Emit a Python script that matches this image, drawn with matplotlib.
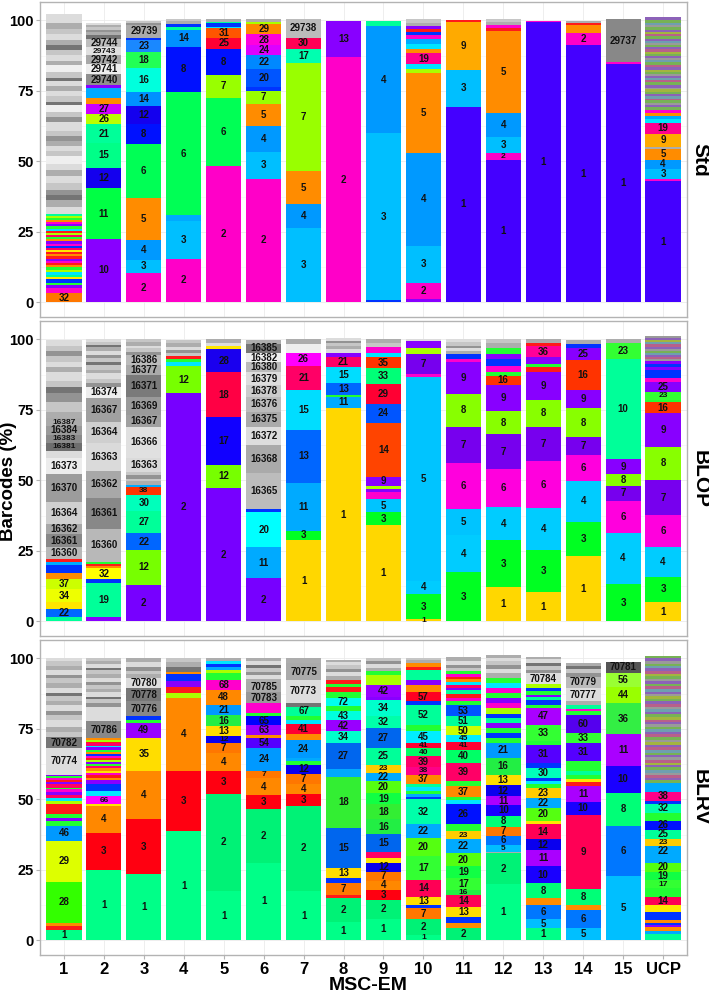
import matplotlib
matplotlib.use("Agg")
import matplotlib.pyplot as plt
from matplotlib.ticker import MultipleLocator

BARS = ["1", "2", "3", "4", "5", "6", "7", "8", "9", "10", "11", "12", "13", "14", "15", "UCP"]
PANELS = ["Std", "BLOP", "BLRV"]

# ---- segments of every bar, bottom -> top : (barcode id, % of barcodes) ----
# numeric ids are labelled barcodes; letter ids are minor unlabelled barcodes
STD_SEGMENTS = [
    [("32", 3.3), ("M", 1.8), ("V", 1.0), ("G", 0.8), ("B", 1.4), ("Y", 0.6), ("T", 0.8), ("C", 1.2), ("L", 0.6),
     ("G", 0.9), ("O", 0.7), ("R", 0.8), ("M", 0.6), ("V", 0.7), ("R", 1.2), ("O", 0.6), ("R", 0.9), ("Y", 0.5),
     ("P", 1.0), ("B", 0.6), ("M", 0.8), ("V", 1.0), ("O", 0.7), ("G", 0.8), ("P", 0.6), ("L", 0.8), ("R", 0.7),
     ("C", 0.7), ("G", 1.0), ("V", 0.6), ("M", 0.8), ("O", 0.6), ("G", 0.8), ("L", 0.7), ("T", 0.9),
     ("g2", 2.4), ("g4", 2.4), ("g6", 1.8), ("g5", 1.8), ("g3", 2.4), ("g2", 2.4), ("g4", 2.4), ("g2", 1.8),
     ("g1", 3.0), ("g3", 1.8), ("g2", 1.8), ("g4", 1.8), ("g5", 1.8), ("g3", 1.8), ("g2", 3.0), ("g5", 1.8),
     ("g3", 1.8), ("g1", 2.4), ("g6", 1.2), ("g3", 2.0), ("g2", 2.0), ("g4", 1.5), ("g2", 2.0), ("g6", 1.0),
     ("g3", 2.0), ("g1", 2.5), ("g4", 1.5), ("g2", 2.0), ("g3", 2.0), ("g6", 1.5), ("g4", 2.0), ("g2", 2.0),
     ("g3", 2.0), ("g4", 2.0), ("g2", 3.0)],
    [("10", 22.6), ("11", 17.8), ("12", 7.4), ("15", 8.8), ("21", 6.5), ("26", 3.6), ("27", 3.7), ("O", 2.2),
     ("S", 3.5), ("V", 0.9), ("29740", 3.9), ("29741", 3.5), ("29742", 3.2), ("29743", 2.9), ("29744", 3.0),
     ("g6", 1.2), ("g4", 1.0), ("g5", 1.0), ("g3", 0.8), ("g4", 0.9), ("g2", 0.8)],
    [("2", 10.5), ("3", 4.5), ("4", 7.1), ("5", 14.8), ("6", 19.1), ("8", 7.1), ("12", 6.5), ("14", 5.0),
     ("16", 8.6), ("18", 5.7), ("23", 4.1), ("B", 0.8), ("29739", 4.5), ("g5", 0.8), ("g3", 0.7)],
    [("2", 15.5), ("3", 13.3), ("S", 2.1), ("6", 43.7), ("8", 16.1), ("14", 5.9), ("T", 1.2), ("B", 0.8),
     ("g4", 1.0), ("g3", 1.0)],
    [("2", 48.3), ("6", 24.3), ("7", 7.9), ("8", 9.5), ("25", 3.9), ("31", 3.3), ("C", 0.6), ("B", 1.1),
     ("T", 0.6), ("g4", 0.9)],
    [("2", 43.9), ("3", 9.4), ("4", 9.2), ("5", 7.9), ("7", 4.5), ("B", 1.5), ("20", 6.5), ("22", 4.7),
     ("24", 3.5), ("28", 3.9), ("29", 3.6), ("L", 0.9), ("g4", 0.9)],
    [("3", 26.5), ("4", 8.3), ("5", 11.8), ("7", 38.4), ("17", 5.0), ("30", 3.9), ("29738", 6.5)],
    [("2", 87.0), ("13", 12.8)],
    [("B", 0.7), ("3", 59.2), ("4", 38.1), ("T", 1.8)],
    [("V", 1.1), ("2", 5.9), ("3", 13.0), ("4", 33.1), ("5", 28.1), ("L", 1.7), ("C", 1.5), ("19", 4.1),
     ("O", 1.5), ("C", 1.5), ("S", 1.8), ("M", 1.4), ("B", 1.2), ("R", 0.9), ("V", 1.2), ("g4", 1.2), ("g3", 1.2)],
    [("1", 69.4), ("3", 12.9), ("9", 17.1), ("R", 0.7)],
    [("1", 50.5), ("2", 2.6), ("3", 5.5), ("4", 8.4), ("5", 29.2), ("R", 1.2), ("M", 0.9), ("g4", 1.0), ("g3", 1.2)],
    [("1", 99.5), ("M", 0.3)],
    [("1", 91.1), ("2", 4.5), ("O", 2.6), ("R", 1.0), ("g4", 0.6)],
    [("1", 84.6), ("M", 0.6), ("29737", 15.2)],
    [("1", 43.0), ("M", 0.9), ("3", 3.5), ("4", 3.1), ("5", 4.0), ("g4", 0.7), ("9", 4.4), ("19", 4.1),
     ("C", 1.2), ("S", 1.1), ("O", 1.0), ("M", 1.2),
     ("k1", 1.0), ("k2", 0.8), ("k3", 0.7), ("k1", 0.9), ("k4", 0.6), ("k5", 0.8), ("k2", 1.0), ("k1", 0.7),
     ("k6", 0.8), ("k3", 0.6), ("k2", 0.9), ("k1", 1.1), ("k4", 0.7), ("k5", 0.6), ("k2", 0.8), ("k3", 0.9),
     ("k1", 0.7), ("k6", 0.6), ("k2", 1.0), ("k4", 0.8), ("k1", 0.9), ("k5", 0.7), ("k3", 0.8), ("k2", 0.6),
     ("k1", 1.0), ("k6", 0.7), ("k4", 0.9), ("k2", 0.8), ("k1", 0.7), ("k3", 0.6), ("k5", 0.9), ("k2", 0.7),
     ("k1", 1.0), ("k4", 0.6), ("k6", 0.8), ("k2", 0.7), ("k1", 0.9), ("k3", 0.8), ("k5", 0.6), ("k1", 1.2),
     ("k2", 1.2)],
]

BLOP_SEGMENTS = [
    [("T", 1.5), ("22", 3.0), ("Y", 2.3), ("34", 4.7), ("37", 3.5), ("O", 2.1), ("B", 3.0), ("S", 0.8), ("R", 1.2),
     ("16360", 4.1), ("16361", 4.6), ("16362", 3.8), ("16364", 7.7), ("16370", 9.9), ("16373", 5.8), ("g2", 2.4),
     ("16381", 2.9), ("16383", 2.9), ("16384", 3.0), ("16387", 2.9),
     ("g4", 2.3), ("g3", 3.5), ("g5", 2.9), ("g6", 2.3), ("g3", 2.3), ("g2", 2.9), ("g4", 1.8), ("g2", 1.8),
     ("g3", 2.3), ("g5", 1.8), ("g3", 1.8), ("g2", 2.0)],
    [("V", 1.5), ("19", 12.0), ("B", 1.5), ("32", 3.9), ("O", 0.8), ("R", 0.6), ("G", 0.8),
     ("16360", 11.7), ("16361", 11.1), ("16362", 9.4), ("16363", 9.9), ("16364", 7.6), ("16367", 8.4),
     ("16374", 3.9), ("g5", 1.5), ("g3", 1.5), ("g2", 2.0), ("g4", 1.2), ("g3", 1.5), ("g6", 1.0), ("g3", 1.5),
     ("g5", 1.2), ("g2", 1.5), ("g4", 1.2), ("g6", 0.8), ("g3", 1.0), ("g2", 1.2)],
    [("2", 13.0), ("12", 12.2), ("22", 6.1), ("27", 8.0), ("30", 5.6), ("38", 2.8), ("S", 0.7),
     ("g4", 1.2), ("g3", 1.0), ("g5", 1.2), ("g3", 1.2), ("16363", 5.0), ("16366", 11.0), ("16367", 4.1),
     ("16369", 6.5), ("16371", 7.8), ("16377", 3.5), ("16386", 3.5),
     ("g5", 1.2), ("g3", 1.2), ("g2", 1.0), ("g4", 1.2), ("g3", 1.0)],
    [("2", 81.1), ("12", 9.3), ("C", 1.7), ("G", 0.9), ("R", 1.2),
     ("g3", 1.0), ("g5", 1.0), ("g2", 1.2), ("g4", 1.2), ("g3", 1.2)],
    [("2", 47.4), ("12", 8.0), ("17", 17.1), ("18", 15.8), ("28", 8.2), ("Y", 1.2), ("g2", 1.0), ("g4", 1.3)],
    [("2", 15.3), ("11", 11.1), ("20", 12.3), ("B", 1.1), ("16365", 12.9), ("16368", 9.9), ("16372", 6.4),
     ("16375", 5.3), ("16376", 5.3), ("16378", 4.3), ("16379", 4.4), ("16380", 3.5), ("16382", 3.5),
     ("16385", 3.2), ("g4", 1.3)],
    [("1", 28.7), ("3", 3.5), ("11", 17.0), ("13", 18.7), ("15", 14.0), ("21", 8.8), ("26", 4.6),
     ("g1", 2.9), ("g4", 2.0)],
    [("1", 75.7), ("11", 3.9), ("G", 0.8), ("13", 4.1), ("15", 5.6), ("21", 3.5), ("V", 1.7),
     ("g2", 1.2), ("g4", 1.0), ("g3", 1.1), ("g5", 0.8), ("g2", 1.2)],
    [("1", 34.0), ("3", 4.7), ("5", 4.6), ("M", 2.4), ("V", 1.1), ("L", 1.2), ("9", 3.3), ("14", 19.1),
     ("24", 6.8), ("29", 7.0), ("33", 5.5), ("35", 4.1), ("C", 1.5), ("M", 2.1), ("g3", 1.3), ("g4", 1.3)],
    [("1", 0.7), ("3", 9.0), ("4", 4.6), ("5", 72.3), ("M", 1.1), ("7", 7.0), ("L", 2.4), ("V", 2.3), ("g2", 0.6)],
    [("3", 17.6), ("4", 12.9), ("5", 9.3), ("6", 16.4), ("7", 12.8), ("8", 11.7), ("9", 11.4), ("M", 0.9),
     ("B", 1.8), ("g4", 1.0), ("g2", 1.2), ("g5", 0.8), ("g3", 1.2), ("g2", 1.0)],
    [("1", 12.1), ("3", 16.6), ("4", 11.7), ("6", 13.5), ("7", 12.5), ("8", 8.1), ("9", 9.4), ("16", 3.2),
     ("G", 1.2), ("M", 2.4), ("B", 2.3), ("V", 1.8), ("G", 2.3), ("g4", 1.5), ("g3", 1.4)],
    [("1", 10.3), ("3", 14.9), ("4", 15.0), ("6", 16.6), ("7", 12.2), ("8", 9.4), ("9", 9.9), ("R", 1.8),
     ("G", 1.2), ("V", 2.3), ("36", 4.1), ("R", 0.9), ("g4", 1.4)],
    [("1", 23.2), ("3", 12.0), ("4", 14.6), ("6", 9.3), ("7", 6.1), ("8", 10.3), ("9", 6.4), ("16", 10.9),
     ("25", 4.3), ("B", 1.1), ("g4", 1.6)],
    [("3", 13.3), ("4", 18.0), ("6", 11.5), ("7", 5.2), ("8", 4.3), ("9", 5.1), ("10", 35.8), ("23", 5.6),
     ("g4", 1.2)],
    [("1", 6.9), ("3", 8.9), ("4", 10.6), ("6", 11.2), ("7", 12.6), ("8", 11.7), ("9", 11.8), ("16", 3.9),
     ("G", 1.0), ("23", 2.9), ("25", 3.5), ("M", 1.4), ("B", 2.6), ("V", 1.2), ("B", 1.0), ("V", 1.1),
     ("k3", 0.8), ("k4", 0.7), ("k2", 0.8), ("k5", 0.7), ("k1", 0.6), ("k3", 0.8), ("k2", 0.7), ("k4", 0.8),
     ("k5", 0.7), ("k6", 0.8), ("k2", 0.7), ("k3", 0.9)],
]

BLRV_SEGMENTS = [
    [("1", 3.8), ("R", 1.2), ("O", 1.2), ("28", 14.6), ("29", 14.5), ("46", 5.2), ("G", 1.8), ("V", 1.2),
     ("G", 1.2), ("R", 3.5), ("L", 1.2), ("C", 1.1),
     ("P", 1.2), ("V", 0.8), ("M", 1.0), ("G", 0.6), ("P", 1.2), ("V", 0.8), ("R", 0.7), ("M", 0.8), ("G", 0.6),
     ("V", 0.6), ("70774", 9.4), ("70782", 3.8),
     ("g3", 2.0), ("g4", 1.8), ("g2", 2.2), ("g3", 1.8), ("g5", 1.5), ("g2", 2.0), ("g4", 1.5), ("g3", 1.8),
     ("g6", 1.0), ("g2", 2.0), ("g4", 1.5), ("g3", 1.8), ("g5", 1.2), ("g2", 1.8), ("g4", 1.5), ("g3", 1.6),
     ("g2", 1.0)],
    [("1", 25.0), ("3", 13.2), ("4", 9.4), ("Y", 0.8), ("66", 2.7), ("C", 2.0), ("B", 2.2), ("V", 1.4),
     ("O", 1.0), ("R", 0.8), ("M", 0.9), ("Y", 0.6), ("O", 1.0), ("P", 0.8), ("G", 0.7), ("V", 0.9), ("L", 0.6),
     ("R", 0.8), ("M", 0.7), ("B", 0.6), ("O", 0.8), ("G", 0.7), ("V", 0.8), ("C", 0.6), ("P", 0.8), ("R", 0.7),
     ("L", 0.5), ("O", 0.8), ("70786", 5.9), ("g2", 5.2),
     ("g5", 1.2), ("g3", 1.5), ("g6", 0.8), ("g2", 1.5), ("g4", 1.2), ("g3", 1.5), ("g5", 1.0), ("g2", 1.5),
     ("g4", 1.2), ("g3", 1.5), ("g6", 0.8), ("g2", 1.4), ("g4", 1.2), ("g3", 0.8)],
    [("1", 23.5), ("3", 19.4), ("4", 17.1), ("35", 11.8), ("49", 5.3), ("G", 1.2), ("B", 1.1), ("70776", 5.3),
     ("70778", 4.7), ("70780", 3.5), ("g4", 1.5), ("g3", 1.2), ("g5", 1.5), ("g2", 1.5), ("g4", 1.4)],
    [("1", 38.8), ("3", 21.4), ("4", 25.7), ("L", 1.8), ("R", 2.0), ("V", 2.1), ("B", 2.6), ("O", 0.9),
     ("g6", 1.8), ("g4", 1.5), ("g3", 1.6)],
    [("1", 17.6), ("2", 34.4), ("3", 8.0), ("4", 6.5), ("7", 3.5), ("12", 2.3), ("13", 3.6), ("16", 4.1),
     ("21", 3.5), ("48", 5.3), ("68", 3.5), ("G", 2.4), ("L", 1.0), ("S", 1.2), ("B", 1.0), ("C", 1.3), ("g4", 1.0)],
    [("1", 27.6), ("2", 18.9), ("3", 5.0), ("4", 6.1), ("7", 2.6), ("24", 8.0), ("54", 3.6), ("O", 0.9),
     ("63", 3.5), ("65", 3.2), ("G", 1.2), ("M", 3.5), ("70783", 3.9), ("70785", 3.5),
     ("g4", 1.2), ("g2", 1.5), ("g5", 1.0), ("g3", 1.5), ("g6", 1.0), ("g2", 1.2), ("g4", 1.1)],
    [("1", 17.6), ("2", 30.0), ("3", 4.4), ("4", 3.5), ("7", 3.5), ("12", 3.3), ("G", 1.2), ("S", 1.2),
     ("24", 6.5), ("O", 2.0), ("41", 3.5), ("C", 1.3), ("G", 1.4), ("67", 3.5), ("g6", 1.2), ("70773", 8.3),
     ("70775", 5.8), ("g4", 2.0)],
    [("1", 6.5), ("2", 8.4), ("R", 1.2), ("7", 4.1), ("B", 1.8), ("13", 3.6), ("15", 14.4), ("18", 17.9),
     ("S", 3.0), ("27", 9.1), ("34", 4.1), ("42", 4.1), ("43", 3.0), ("G", 1.8), ("72", 3.1), ("G", 1.9),
     ("R", 2.0), ("G", 0.8), ("R", 1.6),
     ("g4", 1.2), ("g2", 1.5), ("g5", 1.0), ("g3", 1.5), ("g2", 1.0), ("g4", 0.8)],
    [("1", 7.7), ("2", 6.6), ("3", 3.6), ("4", 3.3), ("7", 3.2), ("12", 3.2), ("Y", 1.6), ("P", 2.3),
     ("15", 6.1), ("16", 5.3), ("18", 5.3), ("19", 4.1), ("20", 4.1), ("22", 3.0), ("23", 2.9), ("25", 5.9),
     ("27", 7.1), ("32", 4.1), ("34", 5.9), ("V", 1.1), ("42", 4.2), ("L", 3.5), ("G", 1.4),
     ("g4", 1.2), ("g2", 1.2), ("g5", 1.0), ("g3", 1.1)],
    [("1", 2.0), ("2", 5.4), ("7", 3.9), ("B", 1.2), ("13", 3.0), ("14", 5.9), ("17", 8.6), ("20", 6.4),
     ("22", 4.7), ("32", 8.9), ("B", 0.8), ("S", 1.2), ("G", 1.0), ("C", 1.2), ("T", 1.1), ("37", 3.5),
     ("38", 2.7), ("39", 3.8), ("40", 2.9), ("41", 1.8), ("45", 4.1), ("G", 2.4), ("52", 7.0), ("B", 1.2),
     ("57", 3.3), ("O", 2.6), ("V", 1.8), ("T", 3.5), ("R", 1.2), ("O", 1.2), ("g4", 1.0), ("g3", 0.7)],
    [("2", 4.2), ("O", 2.0), ("B", 1.9), ("13", 3.8), ("14", 4.2), ("16", 1.8), ("17", 4.1), ("19", 4.2),
     ("20", 4.8), ("22", 4.9), ("23", 2.9), ("G", 2.3), ("26", 7.3), ("C", 1.2), ("G", 1.2), ("37", 3.9),
     ("G", 1.8), ("39", 6.4), ("40", 4.7), ("41", 2.7), ("45", 2.4), ("50", 3.2), ("51", 3.5), ("53", 4.1),
     ("G", 1.5), ("M", 1.0), ("R", 1.2), ("T", 1.5), ("V", 0.8), ("P", 1.0), ("C", 1.2), ("O", 0.8), ("R", 1.0),
     ("M", 1.0), ("G", 1.0), ("g3", 1.2), ("g5", 1.0), ("g2", 1.3), ("g4", 1.3)],
    [("1", 19.8), ("2", 11.0), ("g4", 0.7), ("5", 2.4), ("6", 3.1), ("7", 3.2), ("8", 3.9), ("10", 3.9),
     ("11", 3.1), ("12", 3.9), ("13", 3.6), ("16", 6.1), ("21", 5.3),
     ("G", 1.8), ("B", 1.8), ("G", 1.8), ("V", 1.8), ("T", 1.7), ("B", 1.4), ("L", 2.0), ("M", 1.8), ("V", 1.8),
     ("G", 1.8), ("M", 1.7), ("C", 1.8), ("G", 1.8), ("g4", 1.8), ("g2", 1.5), ("g5", 1.2), ("g3", 1.5),
     ("g2", 1.2), ("g4", 1.0)],
    [("1", 4.2), ("5", 3.5), ("6", 4.8), ("O", 2.4), ("8", 5.3), ("10", 6.2), ("11", 5.7), ("12", 3.7),
     ("14", 5.3), ("Y", 1.2), ("20", 4.7), ("22", 3.6), ("23", 3.5), ("G", 1.2), ("C", 1.2), ("B", 1.1),
     ("30", 3.5), ("B", 1.8), ("31", 6.5), ("G", 1.2), ("33", 5.9), ("47", 5.9),
     ("G", 1.2), ("B", 1.5), ("T", 1.2), ("V", 0.8), ("G", 1.3), ("B", 1.2), ("L", 1.3), ("70784", 3.8),
     ("g5", 1.2), ("g3", 1.5), ("g6", 1.0), ("g2", 1.2), ("g4", 1.0)],
    [("5", 4.2), ("6", 6.5), ("O", 1.8), ("8", 5.6), ("9", 26.3), ("10", 4.8), ("11", 5.5), ("R", 1.5),
     ("Y", 1.0), ("G", 1.5), ("T", 1.3), ("G", 3.5), ("31", 6.5), ("33", 3.5), ("60", 6.5),
     ("G", 1.2), ("M", 1.0), ("T", 1.3), ("g4", 1.2), ("70777", 4.7), ("70779", 4.1),
     ("g5", 1.2), ("g3", 1.5), ("g6", 1.0), ("g4", 1.0)],
    [("5", 22.9), ("6", 17.7), ("8", 11.7), ("10", 9.5), ("11", 11.2), ("36", 11.3), ("44", 5.4), ("56", 5.0),
     ("70781", 4.1)],
    [("T", 2.4), ("S", 1.0), ("O", 1.2), ("V", 0.8), ("B", 0.9), ("O", 0.8), ("B", 3.0), ("Y", 2.4), ("14", 3.0),
     ("G", 3.0), ("17", 2.9), ("19", 3.0), ("20", 3.0), ("S", 2.4), ("22", 3.5), ("23", 2.6), ("25", 3.3),
     ("26", 3.2), ("G", 2.9), ("32", 3.0), ("B", 1.2), ("38", 3.2), ("S", 3.2),
     ("k1", 0.9), ("k2", 0.8), ("k4", 1.0), ("k3", 0.9), ("k5", 0.8), ("k1", 1.0), ("k2", 0.9), ("k6", 0.8),
     ("k4", 0.9), ("k3", 1.0), ("k2", 0.8), ("k1", 0.9), ("k5", 1.0), ("k4", 0.8), ("k2", 0.9), ("k6", 1.0),
     ("k3", 0.8), ("k1", 0.9), ("k4", 1.0), ("k2", 0.9), ("k5", 0.9), ("k1", 0.8), ("k3", 1.0), ("k2", 0.9),
     ("k4", 0.8), ("k6", 0.9), ("k1", 1.0), ("k2", 0.8), ("k5", 0.9), ("k3", 1.0), ("k4", 0.9), ("k2", 1.0),
     ("k1", 0.8), ("k6", 0.9), ("k3", 0.9), ("k2", 0.8), ("k5", 1.0), ("k4", 0.9), ("k1", 0.9), ("k2", 0.9),
     ("k3", 0.8), ("k1", 1.0), ("k6", 0.9), ("k4", 0.8), ("k2", 1.0), ("k5", 0.9), ("k1", 0.8), ("k3", 0.9),
     ("k2", 1.0), ("k1", 0.9)],
]

# ---- colours ----
MINOR_COLORS = {
    "R": "#ff1a1a", "O": "#ff8c00", "Y": "#ffe600", "L": "#aaff00", "G": "#22ff33", "T": "#00ff99",
    "C": "#00e5ff", "S": "#00aaff", "B": "#0033ff", "V": "#8800ff", "M": "#ff00cc", "P": "#ff0066",
    "g1": "#efefef", "g2": "#dcdcdc", "g3": "#c6c6c6", "g4": "#adadad", "g5": "#939393", "g6": "#747474",
    "k1": "#77b255", "k2": "#8c62b8", "k3": "#9a9a9a", "k4": "#b8608a", "k5": "#6f9fb0", "k6": "#a3b53f",
}

STD_COLORS = {
    "1": "#4400ff", "2": "#ff00c8", "3": "#00bfff", "4": "#0099ff", "5": "#ff8c00", "6": "#00ff55",
    "7": "#99ff00", "8": "#0011ff", "9": "#ffaa00", "10": "#8800ff", "11": "#00ff44", "12": "#1400ee",
    "13": "#8800ff", "14": "#0090ff", "15": "#00ff88", "16": "#00ffdd", "17": "#00ffb0", "18": "#22ff55",
    "19": "#ff0090", "20": "#0055ff", "21": "#00ff99", "22": "#0088ff", "23": "#1a88ff", "24": "#dd00ff",
    "25": "#ff0033", "26": "#bbff00", "27": "#cc00ff", "28": "#ff00dd", "29": "#ff8800", "30": "#ff0055",
    "31": "#ff5500", "32": "#ff7700",
    "29737": "#888888", "29738": "#bbbbbb", "29739": "#aaaaaa", "29740": "#8f8f8f", "29741": "#eeeeee",
    "29742": "#a8a8a8", "29743": "#e0e0e0", "29744": "#bdbdbd",
}

BLOP_COLORS = {
    "1": "#ffd700", "2": "#7700ff", "3": "#00ff22", "4": "#00ccff", "5": "#00c4ff", "6": "#ff00dd",
    "7": "#7700ee", "8": "#88ff00", "9": "#8800ff", "10": "#00ff99", "11": "#00aaff", "12": "#77ff00",
    "13": "#0066ff", "14": "#ff4400", "15": "#00ddff", "16": "#ff3300", "17": "#1100ff", "18": "#ff0044",
    "19": "#00ff99", "20": "#00ffff", "21": "#ff0066", "22": "#0066ff", "23": "#33ff33", "24": "#0055ff",
    "25": "#8800ff", "26": "#ff00ff", "27": "#00ff99", "28": "#1a00ee", "29": "#ff0033", "30": "#00ffbb",
    "32": "#ffff00", "33": "#00ff77", "34": "#eeff00", "35": "#ff3300", "36": "#ff0099", "37": "#ccff00",
    "38": "#ff3300",
    "16360": "#b8b8b8", "16361": "#888888", "16362": "#a8a8a8", "16363": "#dadada", "16364": "#cfcfcf",
    "16365": "#bcbcbc", "16366": "#e0e0e0", "16367": "#a0a0a0", "16368": "#aaaaaa", "16369": "#9a9a9a",
    "16370": "#9c9c9c", "16371": "#7a7a7a", "16372": "#dddddd", "16373": "#ececec", "16374": "#eeeeee",
    "16375": "#aaaaaa", "16376": "#bbbbbb", "16377": "#aaaaaa", "16378": "#cccccc", "16379": "#dddddd",
    "16380": "#bbbbbb", "16381": "#6e6e6e", "16382": "#eeeeee", "16383": "#8a8a8a", "16384": "#9a9a9a",
    "16385": "#777777", "16386": "#bbbbbb", "16387": "#aaaaaa",
}

BLRV_COLORS = {
    "1": "#00ff88", "2": "#00f276", "3": "#ff0011", "4": "#ff8800", "5": "#00bfff", "6": "#0077ff",
    "7": "#ff7700", "8": "#00ff77", "9": "#ff0055", "10": "#1a00ff", "11": "#aa00ff", "12": "#0a00ee",
    "13": "#ffdd00", "14": "#ff0055", "15": "#0066ee", "16": "#22ee44", "17": "#33ff33", "18": "#33ee33",
    "19": "#11ff44", "20": "#55ff11", "21": "#0099ff", "22": "#00aaff", "23": "#ffcc00", "24": "#0099ff",
    "25": "#00ff99", "26": "#0011ff", "27": "#0066ee", "28": "#33ff00", "29": "#ddff00", "30": "#00ffbb",
    "31": "#5500ff", "32": "#00ffaa", "33": "#33ff33", "34": "#00ffcc", "35": "#ffdd00", "36": "#33ee44",
    "37": "#ff8800", "38": "#ff0088", "39": "#ff0066", "40": "#00ff66", "41": "#ff0033", "42": "#9900ff",
    "43": "#00ffdd", "44": "#99ff00", "45": "#00eeff", "46": "#0099ff", "47": "#aa00ff", "48": "#ff8800",
    "49": "#9900ff", "50": "#ccff00", "51": "#00ff99", "52": "#00ff99", "53": "#0055ff", "54": "#5500ff",
    "56": "#99ff33", "57": "#ff0022", "60": "#5500ee", "63": "#9900ff", "65": "#0000ff", "66": "#ff00ff",
    "67": "#00ff99", "68": "#ff00cc", "72": "#00ffee",
    "70773": "#dddddd", "70774": "#dddddd", "70775": "#aaaaaa", "70776": "#888888", "70777": "#dddddd",
    "70778": "#777777", "70779": "#bbbbbb", "70780": "#dddddd", "70781": "#555555", "70782": "#777777",
    "70783": "#999999", "70784": "#dddddd", "70785": "#aaaaaa", "70786": "#888888",
}

PANEL_DATA = [STD_SEGMENTS, BLOP_SEGMENTS, BLRV_SEGMENTS]
PANEL_COLORS = [STD_COLORS, BLOP_COLORS, BLRV_COLORS]

FONT = "Liberation Sans"
W, H = 709, 994
fig = plt.figure(figsize=(W / 100, H / 100), dpi=100)

panel_px = [(2, 317), (321, 636), (640, 955)]
left_px, right_px = 40, 687
axes = []
for (top, bot) in panel_px:
    ax = fig.add_axes([left_px / W, 1 - bot / H, (right_px - left_px) / W, (bot - top) / H])
    axes.append(ax)

for p, ax in enumerate(axes):
    segs_all = PANEL_DATA[p]
    cmap = PANEL_COLORS[p]
    xs, hs, bs, cs = [], [], [], []
    for i, segs in enumerate(segs_all):
        x = i + 1
        bottom = 0.0
        for sid, val in segs:
            xs.append(x)
            hs.append(val)
            bs.append(bottom)
            cs.append(cmap.get(sid, MINOR_COLORS.get(sid, "#999999")))
            if sid.isdigit():
                fs = 7 if val >= 3.0 else 6.0
                ax.text(x, bottom + val / 2, sid, ha="center", va="center", fontsize=fs,
                        fontweight="bold", family=FONT, color="#111111", zorder=4)
            bottom += val
    ax.bar(xs, hs, bottom=bs, width=0.88, color=cs, linewidth=0, zorder=3)

    ax.set_xlim(0.4, 16.6)
    ax.set_ylim(-5.2, 106.5)
    ax.set_yticks([0, 25, 50, 75, 100])
    ax.set_yticklabels(["0", "25", "50", "75", "100"], fontsize=10.5, fontweight="bold", family=FONT)
    ax.yaxis.set_minor_locator(MultipleLocator(12.5))
    ax.set_xticks(range(1, 17))
    ax.grid(True, which="major", color="#ebebeb", linewidth=0.6, zorder=0)
    ax.grid(True, which="minor", axis="y", color="#f4f4f4", linewidth=0.4, zorder=0)
    ax.set_axisbelow(True)
    for s in ax.spines.values():
        s.set_color("#b3b3b3")
        s.set_linewidth(1.0)
    ax.tick_params(axis="y", which="major", length=3, color="#b3b3b3", pad=1.5, labelcolor="black")
    ax.tick_params(axis="y", which="minor", length=0)
    if p < 2:
        ax.tick_params(axis="x", length=0, labelbottom=False)
    else:
        ax.set_xticklabels(BARS, fontsize=12, fontweight="bold", family=FONT)
        ax.tick_params(axis="x", length=3, color="#b3b3b3", pad=2, labelcolor="black")
    top, bot = panel_px[p]
    fig.text(700 / W, 1 - (top + bot) / 2 / H, PANELS[p], rotation=-90, ha="center", va="center",
             fontsize=15, fontweight="bold", family=FONT)

fig.text(9 / W, 1 - 481 / H, "Barcodes (%)", rotation=90, ha="center", va="center",
         fontsize=13.5, fontweight="bold", family=FONT)
fig.text(368 / W, 1 - 985 / H, "MSC-EM", ha="center", va="center", fontsize=14,
         fontweight="bold", family=FONT)

fig.savefig("out.png", dpi=100)
